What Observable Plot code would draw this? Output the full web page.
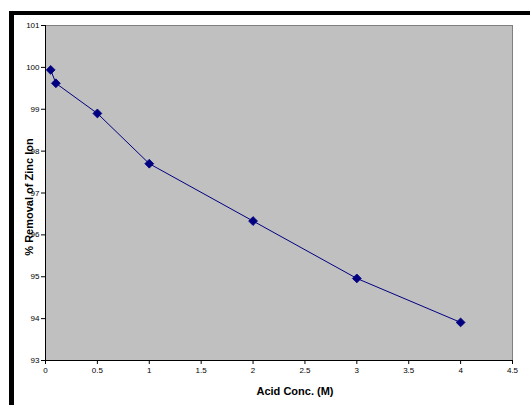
<!DOCTYPE html>
<html>
<head>
<meta charset="utf-8">
<script src="https://cdn.jsdelivr.net/npm/d3@7"></script>
<script src="https://cdn.jsdelivr.net/npm/@observablehq/plot@0.6"></script>
<style>
  html, body { margin: 0; padding: 0; background: #fff; }
  #wrap { position: relative; width: 530px; height: 405px; overflow: hidden; }
  #border { position: absolute; left: 9px; top: 11px; width: 530px; height: 392px;
            border-left: 5px solid #000; border-top: 4px solid #000; border-bottom: 1px solid #e6e6e6; }
  #chart { position: absolute; left: 0; top: 0; }
  svg { font-family: "Liberation Sans", Arial, sans-serif; }
</style>
</head>
<body>
<div id="wrap"><div id="border"></div><div id="chart"></div></div>
<script>
const acidConc = [0.05, 0.1, 0.5, 1, 2, 3, 4];
const removal = [99.94, 99.62, 98.90, 97.70, 96.33, 94.96, 93.91];
const xTicks = [0, 0.5, 1, 1.5, 2, 2.5, 3, 3.5, 4, 4.5];
const yTicks = [93, 94, 95, 96, 97, 98, 99, 100, 101];
const xLabel = "Acid Conc. (M)";
const yLabel = "% Removal of Zinc Ion";

const data = acidConc.map((x, i) => ({x, y: removal[i]}));

const chart = Plot.plot({
  width: 530,
  height: 405,
  marginLeft: 45,
  marginRight: 18,
  marginTop: 25,
  marginBottom: 45,
  style: {background: "transparent", fontFamily: "'Liberation Sans', Arial, sans-serif"},
  x: {domain: [0, 4.5]},
  y: {domain: [93, 101]},
  marks: [
    Plot.frame({fill: "#c0c0c0", stroke: "#808080"}),
    Plot.ruleX([0], {stroke: "#000"}),
    Plot.ruleY([93], {stroke: "#000"}),
    Plot.axisX({ticks: xTicks, tickSize: 4, tickPadding: 3, fontSize: 8, label: null, stroke: "#000", color: "#000", tickFormat: d => String(d)}),
    Plot.axisY({ticks: yTicks, tickSize: 4, tickPadding: 2, fontSize: 8, label: null, stroke: "#000", color: "#000"}),
    Plot.line(data, {x: "x", y: "y", stroke: "#000080", strokeWidth: 1}),
    Plot.dot(data, {x: "x", y: "y", symbol: "diamond2", r: 4, fill: "#000080", stroke: "#000080", strokeWidth: 0.8}),
    Plot.text([xLabel], {frameAnchor: "bottom", dy: 34, dx: 16, text: d => d, fontSize: 11, fontWeight: "bold", fill: "#000"}),
    Plot.text([yLabel], {frameAnchor: "left", dx: -16, dy: 4, rotate: -90, textAnchor: "middle", text: d => d, fontSize: 11, fontWeight: "bold", fill: "#000"})
  ]
});
document.getElementById("chart").appendChild(chart);
</script>
</body>
</html>
